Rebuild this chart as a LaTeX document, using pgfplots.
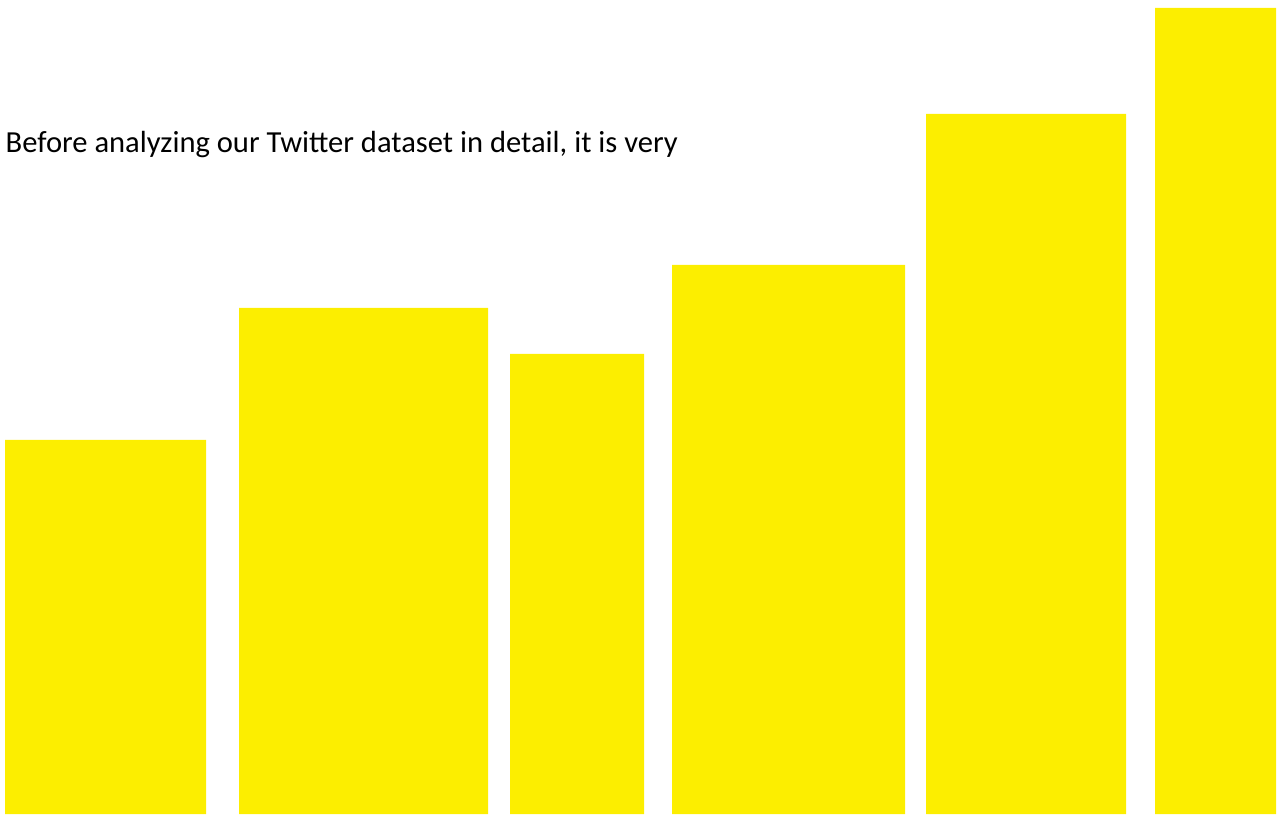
\documentclass[border=0pt]{standalone}
\usepackage{fontspec}
\setmainfont{Carlito}
\usepackage{pgfplots}
\pgfplotsset{compat=1.18}
\definecolor{barYellow}{RGB}{252,238,0}

\begin{document}
\begin{tikzpicture}
\begin{axis}[
    scale only axis,
    width=12.79cm,
    height=8.14cm,
    xmin=0, xmax=1279,
    ymin=0, ymax=814,
    hide axis,
    clip=false,
]
% each bar: left edge, right edge, height (pixel units of the reference)
\addplot[fill=barYellow,draw=none] coordinates {(5,0)(5,374)(206,374)(206,0)} \closedcycle;
\addplot[fill=barYellow,draw=none] coordinates {(239,0)(239,506)(488,506)(488,0)} \closedcycle;
\addplot[fill=barYellow,draw=none] coordinates {(510,0)(510,460)(644,460)(644,0)} \closedcycle;
\addplot[fill=barYellow,draw=none] coordinates {(672,0)(672,549)(905,549)(905,0)} \closedcycle;
\addplot[fill=barYellow,draw=none] coordinates {(926,0)(926,700)(1126,700)(1126,0)} \closedcycle;
\addplot[fill=barYellow,draw=none] coordinates {(1155,0)(1155,806)(1276,806)(1276,0)} \closedcycle;
\node[anchor=base west,inner sep=0pt,font=\fontsize{8.7}{10.5}\selectfont]
    at (axis cs:5,661) {Before analyzing our Twitter dataset in detail, it is very};
\path (axis cs:0,0) rectangle (axis cs:1279,814);
\end{axis}
\end{tikzpicture}
\end{document}
